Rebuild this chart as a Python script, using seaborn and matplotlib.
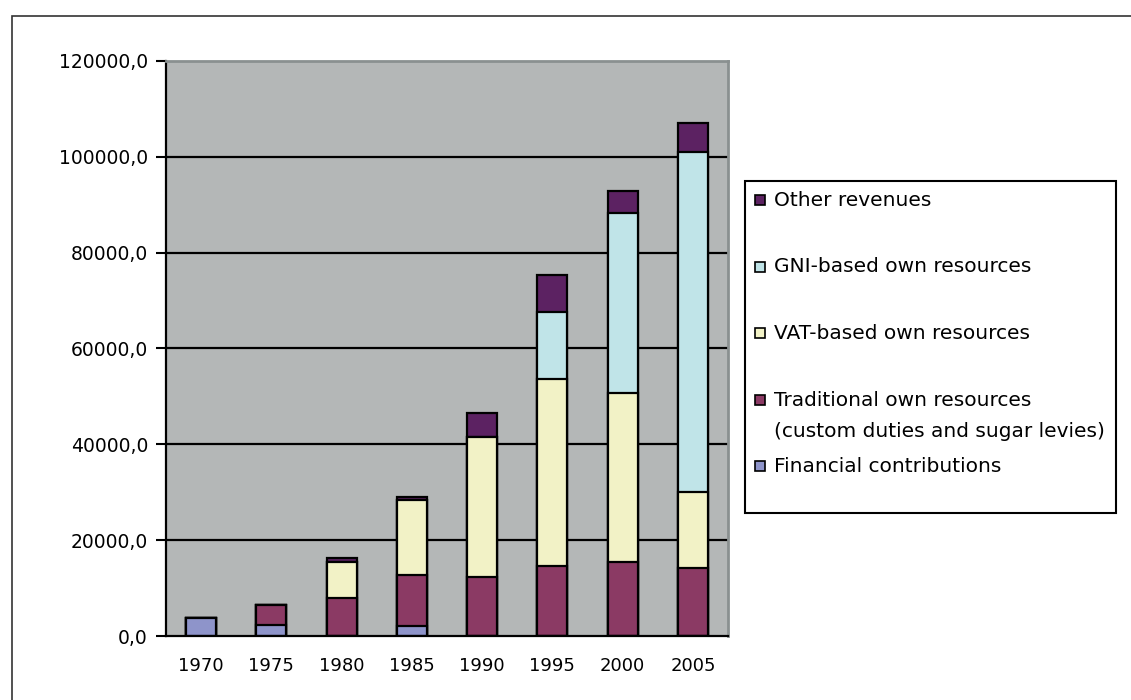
import seaborn as sns
import matplotlib.pyplot as plt
import matplotlib.patches as mpatches
import numpy as np
import pandas as pd

# Data
years = ["1970", "1975", "1980", "1985", "1990", "1995", "2000", "2005"]
financial = [3800, 2300, 0, 2100, 0, 0, 0, 0]
traditional = [0, 4200, 7900, 10600, 12300, 14600, 15400, 14200]
vat = [0, 0, 7500, 15700, 29200, 39000, 35300, 15900]
gni = [0, 0, 0, 0, 0, 14000, 37600, 70900]
other = [0, 0, 800, 600, 5000, 7700, 4600, 6100]

series_names = ["Financial contributions",
                "Traditional own resources\n(custom duties and sugar levies)",
                "VAT-based own resources",
                "GNI-based own resources",
                "Other revenues"]
series_vals = [financial, traditional, vat, gni, other]
colors = ["#8E94CA", "#8B3A64", "#F2F2C6", "#C0E4E8", "#5C2262"]

yticks = [0, 20000, 40000, 60000, 80000, 100000, 120000]
ytick_labels = ["0,0", "20000,0", "40000,0", "60000,0", "80000,0", "100000,0", "120000,0"]

sns.set_theme(style="white")
plt.rcParams['font.family'] = ['DejaVu Sans']
plt.rcParams['text.color'] = 'black'
plt.rcParams['xtick.color'] = 'black'
plt.rcParams['ytick.color'] = 'black'

fig = plt.figure(figsize=(11.31, 7), dpi=100)
ax = fig.add_axes([166 / 1131, 64 / 700, 562 / 1131, 575 / 700])
ax.set_facecolor("#B4B7B7")

df = pd.DataFrame({"year": years})
cum = np.zeros(len(years))
cums = []
for vals in series_vals:
    cum = cum + np.array(vals)
    cums.append(cum.copy())

# stacked bars: draw cumulative totals from top to bottom so they overlay
for name, c, col in reversed(list(zip(series_names, cums, colors))):
    df["v"] = c
    sns.barplot(data=df, x="year", y="v", color=col, width=0.43,
                edgecolor="black", linewidth=1.6, saturation=1, ax=ax, zorder=3)

ax.set_ylim(0, 120000)
ax.set_xlim(-0.5, 7.5)
ax.set_yticks(yticks)
ax.set_yticklabels(ytick_labels, fontsize=13.5)
ax.set_xticks(range(len(years)))
ax.set_xticklabels(years, fontsize=13)
ax.set_xticks(np.arange(-0.5, 8, 1), minor=True)
ax.tick_params(axis="x", which="major", length=0, pad=15)
ax.tick_params(axis="x", which="minor", length=7, width=1.5, color="black", direction="out")
ax.tick_params(axis="y", length=7, width=1.5, color="black", direction="out", pad=6, left=True)
ax.set_xlabel("")
ax.set_ylabel("")
for y in yticks[1:-1]:
    ax.axhline(y, color="black", linewidth=1.6, zorder=1)

ax.spines["left"].set_color("black")
ax.spines["left"].set_linewidth(1.6)
ax.spines["bottom"].set_color("black")
ax.spines["bottom"].set_linewidth(1.6)
ax.spines["bottom"].set_zorder(5)
ax.spines["top"].set_color("#8A9090")
ax.spines["top"].set_linewidth(2)
ax.spines["right"].set_color("#8A9090")
ax.spines["right"].set_linewidth(2)

# outer frame
fig.patches.append(mpatches.Rectangle((12 / 1131, -0.1), 1.2, 1.1 - 16 / 700,
                                      transform=fig.transFigure, fill=False,
                                      edgecolor="#333333", linewidth=1.2))

# legend box (Excel style, handles evenly spaced)
W, H = 1131, 700
fig.patches.append(mpatches.Rectangle((745 / W, 1 - 513 / H), (1116 - 745) / W, (513 - 181) / H,
                                      transform=fig.transFigure, facecolor="white",
                                      edgecolor="black", linewidth=1.5))
legend_y = [200, 267, 333, 400, 466]
for name, col, yy in zip(reversed(series_names), reversed(colors), legend_y):
    fig.patches.append(mpatches.Rectangle((755 / W, 1 - (yy + 5) / H), 10 / W, 10 / H,
                                          transform=fig.transFigure, facecolor=col,
                                          edgecolor="black", linewidth=1.2))
    lines = name.split("\n")
    for i, ln in enumerate(lines):
        fig.text(774 / W, 1 - (yy + 31 * i) / H, ln, fontsize=14.5, va="center", ha="left",
                 color="black")

fig.savefig("out.png", dpi=100)
